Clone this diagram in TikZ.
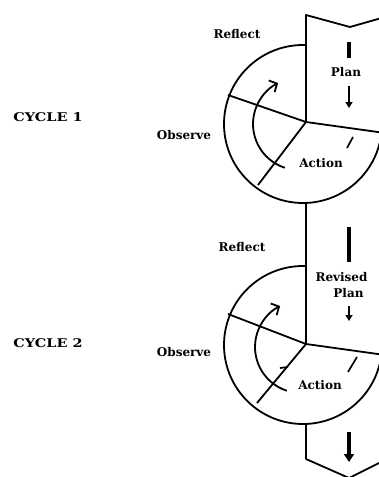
\documentclass[tikz,border=0pt]{standalone}
\usepackage{fontspec}
\setmainfont{DejaVu Serif}
\usetikzlibrary{arrows.meta}
\begin{document}
\begin{tikzpicture}[x=1pt,y=-1pt,
  ln/.style={line width=1.8pt, line join=round},
  lbl/.style={font=\bfseries\fontsize{12}{14}\selectfont, inner sep=0pt},
  thickdash/.style={line width=3.4pt},
  smallarrow/.style={line width=1.6pt, -{Triangle[length=6pt,width=7pt]}},
  bigarrow/.style={line width=3.2pt, -{Triangle[length=8pt,width=10pt]}},
  cyclearrow/.style={line width=1.8pt, -{Straight Barb[length=6pt,width=13pt]}},
  tick/.style={line width=1.7pt}
]
\useasboundingbox (0,0) rectangle (379,477);
\clip (0,0) rectangle (379,477);
% ---------- key points ----------
\coordinate (T1) at (306,15);
\coordinate (V1) at (350,27);
\coordinate (R1) at (385,17);
\coordinate (H1) at (306,122);
\coordinate (C1) at (303,124);
\coordinate (B1) at (306,203);
\coordinate (S1a) at (228,95);
\coordinate (S1b) at (258,185);
\coordinate (S1c) at (385,133);
\coordinate (A1) at (299,124);
\coordinate (H2) at (306,344);
\coordinate (C2) at (303,345);
\coordinate (B2) at (306,424);
\coordinate (S2a) at (228,314);
\coordinate (S2b) at (257,403);
\coordinate (S2c) at (385,355);
\coordinate (A2) at (301,347);
\coordinate (E2) at (306,459);
\coordinate (V2) at (349,478);
\coordinate (R2) at (385,460);
% ---------- cycle 1 ----------
\draw[ln] (R1) -- (V1) -- (T1) -- (H1);
\draw[ln] ([shift={(-88:79)}]C1) arc[start angle=-88, end angle=-346, radius=79];
\draw[ln] (S1a) -- (H1) -- (S1c);
\draw[ln] (H1) -- (S1b);
\draw[cyclearrow] ([shift={(-252:46)}]A1) arc[start angle=-252, end angle=-117, radius=46];
\draw[tick] (353,137) -- (347,148);
\draw[thickdash] (349,42) -- (349,58);
\draw[smallarrow] (349,86) -- (349,108);
% link between cycles
\draw[ln] (B1) -- (H2);
\draw[thickdash] (349,227) -- (349,262);
% ---------- cycle 2 ----------
\draw[ln] ([shift={(-88:79)}]C2) arc[start angle=-88, end angle=-346, radius=79];
\draw[ln] (S2a) -- (H2) -- (S2c);
\draw[ln] (H2) -- (S2b);
\draw[cyclearrow] ([shift={(-252:46)}]A2) arc[start angle=-252, end angle=-117, radius=46];
\draw[tick] (357,357) -- (348,372);
\draw[tick] (280,368) -- (288,367);
\draw[smallarrow] (349,306) -- (349,321);
\draw[ln] (B2) -- (E2) -- (V2) -- (R2);
\draw[bigarrow] (349,432) -- (349,462);
% ---------- labels ----------
\node[lbl] (cyc1) at (48,117) {\scalebox{1.2}[1]{CYCLE 1}};
\node[lbl] (cyc2) at (48,343) {\scalebox{1.2}[1]{CYCLE 2}};
\node[lbl] (refl1) at (237,34) {Reflect};
\node[lbl] (refl2) at (242,247) {Reflect};
\node[lbl] (obs1) at (184,135) {Observe};
\node[lbl] (obs2) at (184,352) {Observe};
\node[lbl] (act1) at (321,163) {Action};
\node[lbl] (act2) at (320,385) {Action};
\node[lbl] (plan1) at (346,72) {Plan};
\node[lbl] (rev2) at (341.5,277) {Revised};
\node[lbl] (plan2) at (348.5,293) {Plan};
\end{tikzpicture}
\end{document}
